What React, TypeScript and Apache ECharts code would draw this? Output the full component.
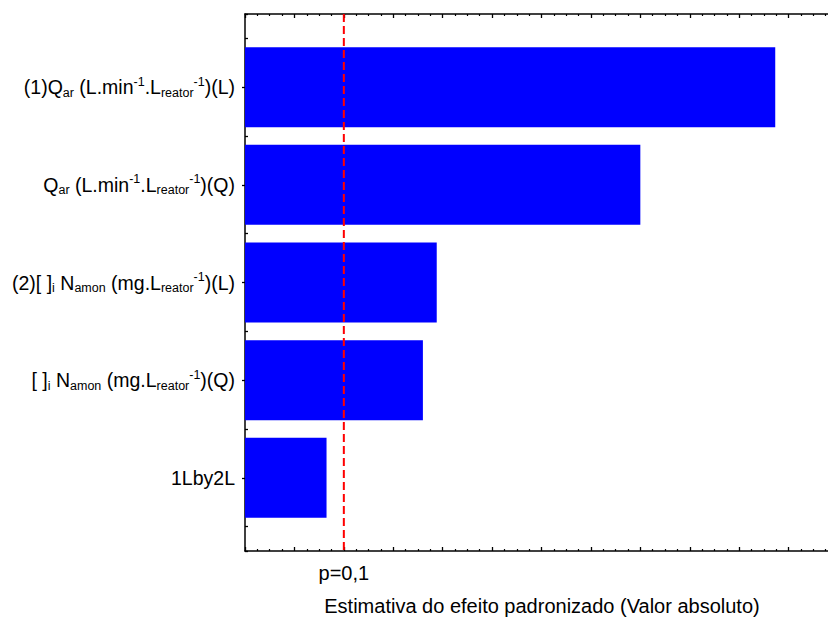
import React, { useEffect, useRef } from "react";
import * as echarts from "echarts";

// Data
const categories = [
  "(1)Qar (L.min-1.Lreator-1)(L)",
  "Qar (L.min-1.Lreator-1)(Q)",
  "(2)[ ]i Namon (mg.Lreator-1)(L)",
  "[ ]i Namon (mg.Lreator-1)(Q)",
  "1Lby2L",
];
const richLabels = [
  "{n|(1)Q}{s|ar}{n| (L.min}{u|-1}{n|.L}{s|reator}{u|-1}{n|)(L)}",
  "{n|Q}{s|ar}{n| (L.min}{u|-1}{n|.L}{s|reator}{u|-1}{n|)(Q)}",
  "{n|(2)[ ]}{s|i}{n| N}{s|amon}{n| (mg.L}{s|reator}{u|-1}{n|)(L)}",
  "{n|[ ]}{s|i}{n| N}{s|amon}{n| (mg.L}{s|reator}{u|-1}{n|)(Q)}",
  "{n|1Lby2L}",
];
const effects = [10.73, 8.0, 3.88, 3.6, 1.65];
const pThreshold = 2.0;
const pLabel = "p=0,1";
const xTitle = "Estimativa do efeito padronizado (Valor absoluto)";

const FONT = "'Liberation Sans', Arial, Helvetica, sans-serif";

export default function App() {
  const ref = useRef<HTMLDivElement>(null);
  useEffect(() => {
    if (!ref.current) return;
    const chart = echarts.init(ref.current, null, { renderer: "svg" });
    const left = 245;
    const top = 14;
    const height = 537;
    const width = 593;
    const band = height / 5.5;
    const axisLineStyle = { color: "#000", width: 1.5 };
    const valueAxisBase = {
      type: "value",
      gridIndex: 0,
      min: 0,
      max: 12,
      interval: 1,
      axisLine: { show: true, lineStyle: axisLineStyle },
      axisTick: { show: true, inside: true, length: 4, lineStyle: { color: "#000", width: 1.3 } },
      minorTick: { show: true, splitNumber: 4, length: 2, lineStyle: { color: "#000", width: 1.2 } },
      splitLine: { show: false },
    };
    chart.setOption({
      animation: false,
      backgroundColor: "#fff",
      textStyle: { fontFamily: FONT },
      grid: [
        { left, top, width, height, outerBoundsMode: "none", containLabel: false },
        {
          left,
          top: top + 0.75 * band - band / 2,
          width,
          height: band * 5,
          outerBoundsMode: "none",
          containLabel: false,
        },
      ],
      xAxis: [
        {
          ...valueAxisBase,
          position: "bottom",
          axisLabel: {
            show: true,
            formatter: (v: number) => (v === pThreshold ? pLabel : ""),
            fontSize: 20,
            color: "#000",
            margin: 12,
            fontFamily: FONT,
          },
        },
        {
          ...valueAxisBase,
          position: "top",
          axisLabel: { show: false },
        },
        {
          type: "value",
          gridIndex: 1,
          min: 0,
          max: 12,
          show: false,
        },
      ],
      yAxis: [
        {
          type: "value",
          gridIndex: 0,
          min: 0.25,
          max: 5.75,
          interval: 0.25,
          inverse: true,
          axisLine: { show: true, lineStyle: axisLineStyle },
          axisTick: { show: true, inside: true, length: 3, lineStyle: { color: "#000", width: 1.3 } },
          axisLabel: { show: false },
          splitLine: { show: false },
        },
        {
          type: "category",
          gridIndex: 1,
          data: categories,
          inverse: true,
          axisLine: { show: false },
          axisTick: { show: true, alignWithLabel: true, length: 3, lineStyle: { color: "#000", width: 1.3 } },
          axisLabel: {
            margin: 10,
            formatter: (_v: string, i: number) => richLabels[i],
            rich: {
              n: { fontSize: 19.5, lineHeight: 24, color: "#000", fontFamily: FONT },
              s: { fontSize: 12.5, lineHeight: 12, color: "#000", verticalAlign: "bottom", fontFamily: FONT },
              u: { fontSize: 12.5, lineHeight: 12, color: "#000", verticalAlign: "top", fontFamily: FONT },
            },
          },
          splitLine: { show: false },
        },
      ],
      series: [
        {
          type: "bar",
          xAxisIndex: 2,
          yAxisIndex: 1,
          data: effects,
          barWidth: 80,
          itemStyle: { color: "#0000ff" },
        },
        {
          type: "line",
          xAxisIndex: 0,
          yAxisIndex: 0,
          data: [
            [pThreshold, 0.25],
            [pThreshold, 5.75],
          ],
          symbol: "none",
          lineStyle: { color: "#ff0000", type: [8, 4], width: 2 },
          z: 5,
        },
      ],
      graphic: [
        {
          type: "text",
          x: 542,
          y: 606,
          style: {
            text: xTitle,
            font: `20px ${FONT}`,
            fill: "#000",
            align: "center",
            verticalAlign: "middle",
          },
        },
      ],
    });
    return () => chart.dispose();
  }, []);
  return (
    <div
      ref={ref}
      style={{ position: "fixed", left: 0, top: 0, width: 828, height: 621, background: "#fff" }}
    />
  );
}
